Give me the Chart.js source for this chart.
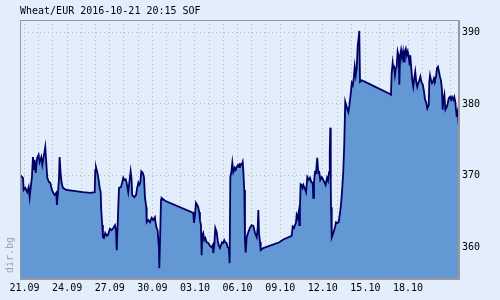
<!DOCTYPE html>
<html><head><meta charset="utf-8">
<script src="https://cdn.jsdelivr.net/npm/chart.js@4.4.1/dist/chart.umd.min.js"></script>
<style>html,body{margin:0;padding:0;background:#e2eefc;overflow:hidden}#wrap{width:500px;height:300px}</style>
</head><body><div id="wrap"><canvas id="c" width="500" height="300"></canvas></div>
<script>
const chartTitle = 'Wheat/EUR 2016-10-21 20:15 SOF';
const watermark = 'dir.bg';
// [days since 21.09.2016, price EUR]
const quotes = [
[-0.32,370.1],[-0.11,369.7],[-0.06,368.0],[0.05,368.3],[0.19,367.7],[0.29,368.4],[0.36,367.0],[0.43,368.3],[0.52,369.8],[0.59,372.6],
[0.66,370.8],[0.71,372.2],[0.78,370.4],[0.89,372.5],[0.99,372.9],[1.06,371.9],[1.18,372.6],[1.25,371.5],[1.37,372.9],[1.46,374.0],
[1.53,371.8],[1.60,369.7],[1.72,369.1],[1.81,369.0],[1.93,368.0],[2.02,367.6],[2.12,367.3],[2.23,367.6],[2.28,365.9],[2.35,367.6],
[2.42,369.4],[2.47,372.6],[2.54,370.4],[2.61,369.0],[2.70,368.3],[2.94,368.0],[4.11,367.7],[4.65,367.6],[4.94,367.7],[4.98,370.8],
[5.03,371.2],[5.12,370.5],[5.22,369.4],[5.29,368.3],[5.36,367.7],[5.40,365.2],[5.47,363.1],[5.52,361.4],[5.59,361.3],[5.68,362.0],
[5.78,361.6],[5.87,361.7],[6.01,362.6],[6.13,362.4],[6.25,362.7],[6.37,363.1],[6.44,362.4],[6.49,359.6],[6.56,363.4],[6.65,368.3],
[6.79,368.4],[6.88,369.1],[6.95,369.7],[7.02,369.4],[7.12,369.5],[7.19,369.0],[7.30,367.7],[7.40,369.4],[7.47,370.6],[7.54,369.4],
[7.58,367.3],[7.73,367.0],[7.85,367.3],[7.94,368.4],[8.01,369.0],[8.08,368.7],[8.15,369.0],[8.22,370.6],[8.32,370.4],[8.41,369.8],
[8.48,366.9],[8.53,366.2],[8.57,365.6],[8.60,363.5],[8.71,363.8],[8.83,363.5],[8.95,364.1],[9.06,363.8],[9.18,364.2],[9.23,363.4],
[9.30,362.7],[9.37,362.4],[9.42,361.0],[9.46,360.0],[9.49,357.1],[9.54,361.0],[9.61,366.6],[9.65,366.9],[9.89,366.5],[11.88,364.8],
[11.93,363.4],[12.00,364.5],[12.07,366.2],[12.16,365.9],[12.23,365.6],[12.30,364.9],[12.35,363.8],[12.42,363.1],[12.47,358.9],[12.51,361.7],
[12.58,362.0],[12.65,361.0],[12.73,361.3],[12.82,360.7],[12.94,360.6],[13.06,360.2],[13.18,360.0],[13.25,360.3],[13.29,359.2],[13.36,360.3],
[13.43,362.7],[13.53,362.1],[13.60,361.0],[13.67,360.3],[13.76,359.9],[13.83,360.3],[13.90,360.7],[13.99,360.6],[14.06,361.0],[14.13,360.7],
[14.23,360.6],[14.30,360.0],[14.39,359.9],[14.44,357.8],[14.49,369.8],[14.56,370.5],[14.63,371.8],[14.70,370.5],[14.80,371.1],[14.87,370.8],
[14.94,371.2],[15.03,371.5],[15.10,371.2],[15.17,371.6],[15.29,371.5],[15.36,371.9],[15.40,370.8],[15.47,368.0],[15.52,361.0],[15.57,359.3],
[15.64,361.4],[15.75,362.1],[15.87,362.7],[15.99,363.1],[16.11,363.0],[16.23,362.0],[16.35,361.4],[16.42,362.8],[16.46,365.2],[16.51,362.0],
[16.58,360.7],[16.63,359.6],[16.81,359.9],[17.94,360.7],[18.22,361.1],[18.81,361.6],[18.88,362.9],[18.97,362.7],[19.04,363.1],[19.11,363.4],
[19.16,364.5],[19.23,364.1],[19.30,364.9],[19.35,363.1],[19.39,365.6],[19.44,368.8],[19.51,368.7],[19.58,368.3],[19.63,368.7],[19.75,368.1],
[19.82,367.7],[19.91,369.8],[20.01,369.4],[20.10,369.7],[20.19,369.1],[20.29,369.0],[20.33,366.9],[20.38,369.1],[20.45,370.5],[20.52,370.4],
[20.61,372.5],[20.68,370.4],[20.75,370.5],[20.82,369.4],[20.92,369.8],[21.01,369.5],[21.11,369.1],[21.20,368.7],[21.30,369.7],[21.37,369.3],
[21.44,370.5],[21.49,373.3],[21.53,376.7],[21.56,368.7],[21.58,365.6],[21.63,361.4],[21.74,362.0],[21.86,362.8],[21.93,363.5],[22.02,363.4],
[22.12,363.5],[22.21,364.8],[22.28,365.9],[22.35,367.7],[22.44,370.5],[22.51,374.3],[22.58,380.3],[22.68,379.6],[22.80,378.9],[22.87,379.8],
[22.96,381.3],[23.04,382.9],[23.11,382.6],[23.18,383.6],[23.25,385.2],[23.32,384.0],[23.39,385.0],[23.46,388.2],[23.53,389.3],[23.57,390.2],
[23.62,383.1],[23.74,383.3],[23.97,383.1],[24.27,382.8],[25.73,381.4],[25.80,381.3],[25.85,384.3],[25.92,385.7],[25.96,385.0],[26.01,385.4],
[26.08,384.0],[26.15,385.0],[26.20,385.2],[26.27,387.3],[26.35,386.6],[26.39,382.7],[26.44,386.6],[26.51,387.5],[26.58,386.4],[26.65,387.3],
[26.72,385.9],[26.77,387.3],[26.84,387.7],[26.91,386.8],[26.98,387.3],[27.05,386.6],[27.12,385.4],[27.16,386.8],[27.23,385.0],[27.30,383.3],
[27.37,382.4],[27.44,383.6],[27.51,384.5],[27.58,383.1],[27.65,382.4],[27.72,382.9],[27.80,383.3],[27.87,383.8],[27.94,383.1],[28.04,382.7],
[28.13,381.7],[28.20,380.6],[28.27,380.3],[28.36,379.4],[28.46,379.9],[28.50,383.1],[28.55,384.0],[28.62,383.3],[28.69,382.9],[28.76,383.1],
[28.83,383.6],[28.90,383.3],[28.97,383.8],[29.04,385.0],[29.11,385.2],[29.18,384.5],[29.25,383.8],[29.32,383.3],[29.39,382.0],[29.44,379.2],
[29.49,380.6],[29.56,381.3],[29.63,379.2],[29.73,379.6],[29.80,380.1],[29.87,380.8],[29.96,381.0],[30.03,380.6],[30.10,381.0],[30.19,380.6],
[30.26,381.0],[30.33,380.3],[30.38,379.2],[30.43,378.2],[30.50,378.9],[30.57,377.1]
];
const gridDays = [0,1,2,3,4,5,6,7,8,9,10,11,12,13,14,15,16,17,18,19,20,21,22,23,24,25,26,27,28,29,30];
const labelDays = [0,3,6,9,12,15,18,21,24,27];
const dateLabels = ['21.09','24.09','27.09','30.09','03.10','06.10','09.10','12.10','15.10','18.10'];
const priceTicks = [360,370,380,390];

const BG = '#e2eefc';
const FONT = {family:'"DejaVu Sans Mono", monospace', size:10};
const GRID = '#bcb8b4';

const deco = {
  id:'deco',
  beforeDraw(chart){
    const c = chart.ctx; c.save(); c.fillStyle = BG; c.fillRect(0,0,chart.width,chart.height); c.restore();
  },
  afterDraw(chart){
    const c = chart.ctx, a = chart.chartArea;
    c.save();
    c.strokeStyle = '#999999'; c.lineWidth = 1;
    c.strokeRect(a.left+0.5, a.top+0.5, a.right-a.left-1, a.bottom-a.top-1);
    c.fillStyle = '#000'; c.font = '10px "DejaVu Sans Mono", monospace'; c.textBaseline = 'alphabetic';
    c.fillText(chartTitle, a.left, 14);
    c.translate(13, 273); c.rotate(-Math.PI/2);
    c.fillStyle = '#a0a0a0'; c.fillText(watermark, 0, 0);
    c.restore();
  }
};

new Chart(document.getElementById('c'), {
  type:'line',
  data:{datasets:[{
    data: quotes.map(q=>({x:q[0], y:q[1]})),
    borderColor:'#000066', borderWidth:1.8, backgroundColor:'#6498d4',
    fill:'start', pointRadius:0, tension:0
  }]},
  options:{
    responsive:false, animation:false, devicePixelRatio:1,
    layout:{padding:{left:20, top:20, right:0, bottom:0}},
    plugins:{legend:{display:false}, tooltip:{enabled:false}, title:{display:false}},
    scales:{
      x:{type:'linear', min:-0.32, max:30.59, z:1,
        afterBuildTicks(s){ s.ticks = gridDays.map(v=>({value:v})); },
        afterFit(s){ s.height = 21; },
        ticks:{autoSkip:false, maxRotation:0, padding:3, color:'#000', font:FONT,
          callback(v){ const i = labelDays.indexOf(v); return i>=0 ? dateLabels[i] : ''; }},
        grid:{color:GRID, lineWidth:1, drawTicks:false},
        border:{display:true, color:'#999999', dash:[1,3]}
      },
      y:{type:'linear', position:'right', min:355.58, max:391.72, z:1,
        afterBuildTicks(s){ s.ticks = priceTicks.map(v=>({value:v})); },
        afterFit(s){ s.width = 41; },
        ticks:{padding:3, color:'#000', font:FONT},
        grid:{color:GRID, lineWidth:1, drawTicks:false},
        border:{display:true, color:'#999999', dash:[1,3]}
      }
    }
  },
  plugins:[deco]
});
</script></body></html>
